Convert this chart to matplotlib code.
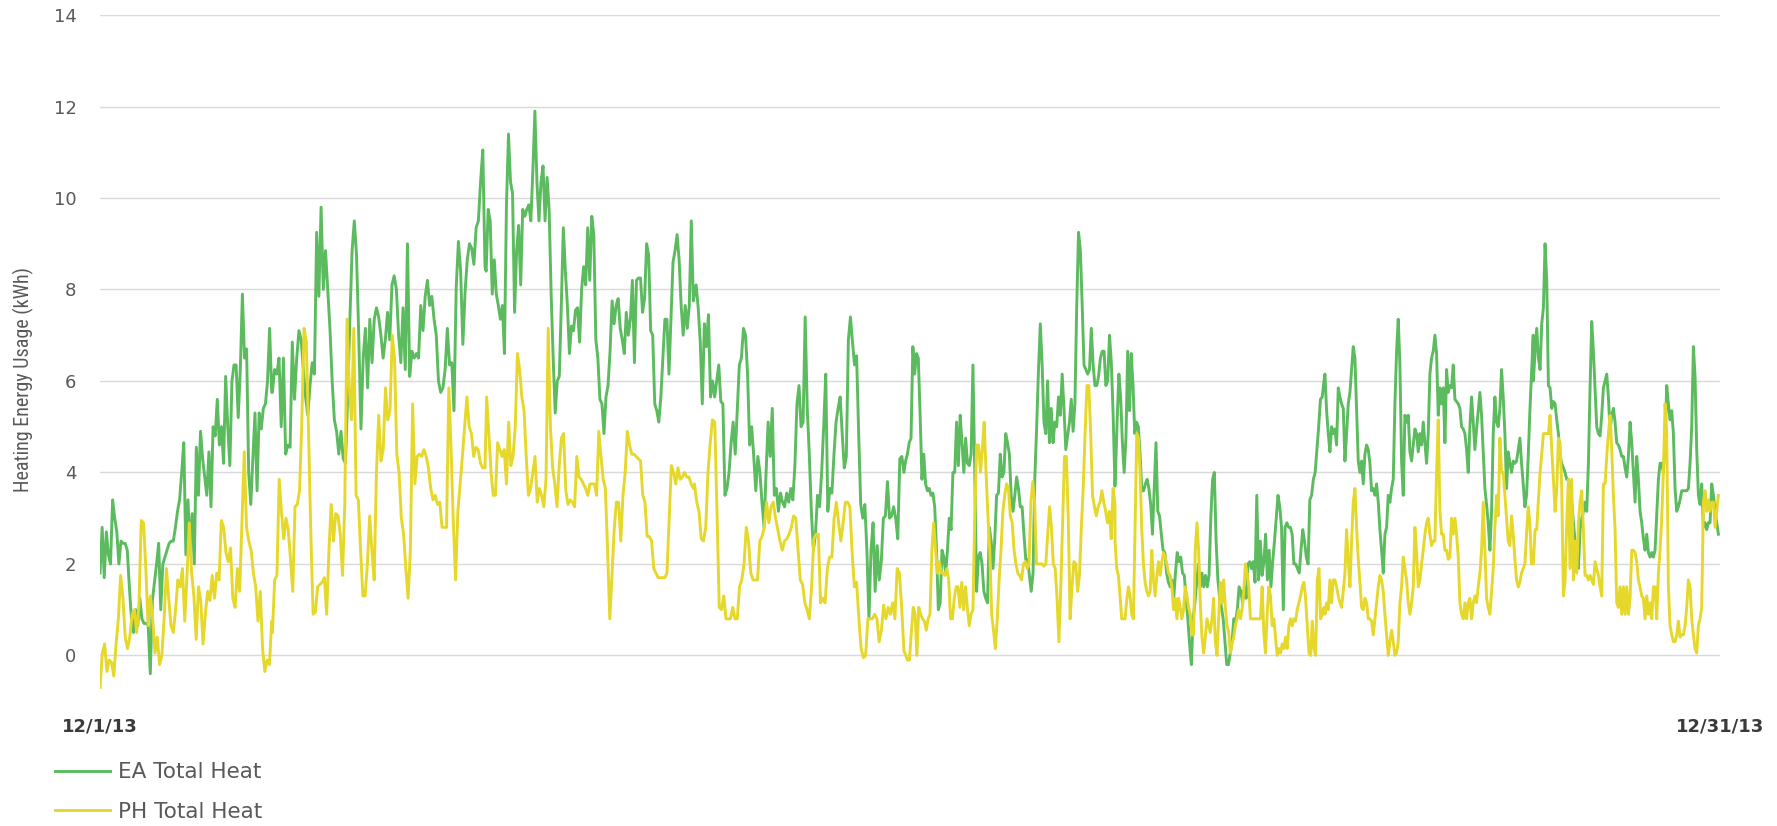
"""Hourly heating energy, EA vs PH, December 2013."""

import numpy as np
import matplotlib
matplotlib.use("Agg")
import matplotlib.pyplot as plt

# hour spans covered by each block of readings (hours since 12/1/13 00:00)
SPANS = [(0, 76.3), (75.6, 171.1), (168.9, 263.7), (262.2, 357.3),
         (355.6, 451.1), (448.9, 544.0), (542.2, 637.0), (635.6, 719.3)]

# EA Total Heat (kWh)
ea_1 = [1.8, 2.8, 1.7, 2.7, 2.2, 2.0, 3.4, 3.0, 2.7, 2.0, 2.5, 2.45, 2.45, 2.3, 1.5, 0.8, 0.5, 1.0, 0.65, 1.25,
        0.8, 0.7, 0.7, 0.65, -0.4, 1.2, 1.6, 2.0, 2.45, 1.0, 2.0, 2.15, 2.3, 2.45, 2.5, 2.5, 2.8, 3.15, 3.4, 4.0,
        4.65, 2.2, 3.4, 2.3, 3.1, 2.0, 4.55, 3.5, 4.9, 4.3, 3.9, 3.5, 4.45, 3.25, 5.0, 4.8, 5.6, 4.6, 5.0, 4.2,
        6.1, 5.0, 4.15, 6.0, 6.35, 6.35, 5.2, 6.25, 7.9, 6.5, 6.7, 4.0, 3.3, 4.3, 5.3, 3.6, 5.3, 4.95, 5.4, 5.5,
        6.0, 7.15, 5.75]
ea_2 = [7.15, 5.75, 6.25, 6.15, 6.5, 5.0, 6.5, 4.4, 4.6, 4.55, 6.85, 5.6, 6.5, 7.1, 6.9, 6.25, 5.65, 5.25, 5.9, 6.4,
        6.15, 9.25, 7.85, 9.8, 8.0, 8.85, 8.0, 7.15, 6.0, 5.15, 4.9, 4.4, 4.9, 4.3, 4.2, 5.65, 7.35, 8.85, 9.5, 8.75,
        7.0, 4.95, 6.5, 7.15, 5.85, 7.35, 6.4, 7.35, 7.6, 7.4, 7.0, 6.5, 6.9, 7.5, 6.9, 8.1, 8.3, 8.0, 7.0, 6.4,
        7.6, 6.25, 9.0, 6.1, 6.65, 6.5, 6.6, 6.5, 7.65, 7.1, 7.85, 8.2, 7.65, 7.85, 7.35, 7.0, 6.0, 5.75, 5.85, 6.25,
        7.15, 6.35, 6.4, 5.35, 8.05, 9.05, 8.4, 6.8, 7.95, 8.65, 9.0, 8.9, 8.55, 9.35, 9.5, 10.35, 11.05, 8.5]
ea_3 = [10.7, 11.0, 11.1, 8.4, 9.75, 9.5, 7.9, 8.65, 7.9, 7.65, 7.35, 7.65, 6.6, 9.85, 11.4, 10.35, 10.1, 7.5, 8.85, 9.4,
        8.1, 9.75, 9.6, 9.75, 9.85, 9.5, 10.6, 11.9, 10.35, 9.5, 10.35, 10.7, 9.5, 10.45, 9.75, 7.9, 6.5, 5.3, 6.0, 6.1,
        7.65, 9.35, 8.4, 7.65, 6.6, 7.2, 7.1, 7.55, 7.6, 6.85, 8.0, 8.5, 8.1, 9.35, 8.2, 9.6, 9.2, 6.9, 6.5, 5.6,
        5.5, 4.85, 5.65, 5.9, 6.65, 7.75, 7.25, 7.65, 7.8, 7.15, 6.9, 6.6, 7.5, 7.0, 7.35, 8.2, 6.4, 8.2, 8.25, 8.25,
        7.5, 7.8, 9.0, 8.75, 7.1, 7.0, 5.5, 5.35, 5.1, 5.65, 6.5, 7.35, 7.35, 6.15, 7.35, 8.6, 8.85, 9.2, 8.65, 7.65,
        7.0, 7.65, 7.15, 7.65, 9.5, 7.75]
ea_4 = [8.2, 9.5, 7.85, 8.1, 7.6, 6.85, 5.5, 7.25, 6.75, 7.45, 5.65, 6.0, 5.65, 6.0, 6.35, 5.55, 5.5, 3.5, 3.65, 4.0,
        4.65, 5.1, 4.4, 5.35, 6.35, 6.5, 7.15, 7.0, 6.15, 4.6, 5.0, 4.35, 3.6, 4.35, 4.0, 3.35, 2.8, 4.0, 5.1, 4.35,
        5.4, 3.5, 3.65, 3.15, 3.55, 3.35, 3.25, 3.55, 3.35, 3.65, 3.4, 4.15, 5.5, 5.9, 5.0, 5.1, 7.4, 5.4, 4.4, 3.15,
        2.3, 2.65, 3.5, 3.25, 4.0, 5.0, 6.15, 3.15, 3.65, 3.55, 4.4, 5.1, 5.4, 5.65, 4.85, 4.1, 4.35, 6.9, 7.4, 6.85,
        6.35, 6.55, 4.85, 3.3, 3.0, 3.3, 2.3, 0.8, 2.3, 2.9, 1.4, 2.4, 1.65, 2.05, 3.0, 3.05, 3.8, 3.0, 3.05, 3.25,
        3.0, 2.55, 4.3, 4.35, 4.0]
ea_5 = [3.9, 4.4, 4.15, 4.25, 4.4, 4.65, 4.75, 6.75, 6.15, 6.6, 6.5, 5.25, 3.85, 4.4, 3.75, 3.6, 3.65, 3.5, 3.55, 3.25,
        2.3, 1.0, 1.15, 2.3, 2.15, 1.8, 2.3, 3.0, 2.75, 4.0, 4.0, 5.1, 4.15, 5.25, 4.65, 4.0, 4.75, 4.2, 4.15, 4.4,
        6.35, 4.0, 1.4, 2.15, 2.25, 2.0, 1.4, 1.25, 1.15, 2.8, 2.5, 1.9, 2.55, 3.5, 3.55, 4.4, 3.9, 4.0, 4.85, 4.65,
        4.4, 3.5, 3.15, 3.5, 3.9, 3.65, 3.25, 3.25, 2.65, 2.1, 2.1, 1.75, 1.4, 1.8, 3.9, 5.0, 6.25, 7.25, 6.35, 5.1,
        4.85, 6.0, 4.65, 5.4, 4.65, 5.1, 5.0, 5.65, 5.25, 6.15, 5.4, 4.5, 4.8, 5.1, 5.6, 4.9, 5.5, 7.65, 9.25, 8.85,
        7.65, 6.35, 6.25, 6.15, 6.25, 7.15, 6.35, 5.9, 5.9, 6.1, 6.5, 6.65, 6.65, 5.9, 6.0, 7.0, 6.4, 5.25, 3.7]
ea_6 = [7.0, 6.5, 5.65, 3.9, 5.1, 6.15, 5.65, 4.65, 4.0, 4.75, 6.65, 5.35, 6.6, 5.9, 4.85, 5.1, 5.0, 4.4, 3.6, 3.6,
        3.75, 3.85, 3.65, 3.3, 2.65, 3.65, 4.65, 3.15, 3.05, 2.65, 2.3, 2.25, 1.8, 1.6, 1.5, 1.65, 1.25, 1.8, 2.25, 2.05,
        2.15, 1.8, 1.75, 1.25, 0.8, 0.25, -0.2, 0.8, 1.15, 1.6, 2.0, 1.5, 1.8, 1.5, 1.75, 1.5, 1.75, 3.0, 3.85, 4.0,
        2.5, 1.65, 1.25, 1.05, 0.8, 0.3, -0.2, -0.2, 0.05, 0.3, 0.8, 0.75, 1.0, 1.5, 1.4, 1.15, 1.5, 1.25, 2.0, 2.05,
        1.9, 2.05, 1.6, 3.5, 1.65, 2.5, 1.75, 2.05, 2.65, 1.65, 2.3, 1.5, 2.05, 2.5, 3.0, 3.5, 3.25, 2.8, 1.0, 2.8,
        2.9, 2.8, 2.8, 2.65, 2.0, 2.0, 1.9, 1.8, 2.3, 2.75, 2.5, 2.15, 2.0, 3.4, 3.5, 3.85, 4.0, 4.5, 5.0, 5.6,
        5.65, 6.0]
ea_7 = [5.65, 5.25, 5.65, 6.15, 5.35, 4.85, 4.45, 5.0, 4.85, 4.95, 4.6, 5.85, 5.65, 5.5, 5.4, 4.25, 4.85, 5.5, 5.75, 6.25,
        6.75, 6.5, 5.35, 4.25, 4.0, 4.25, 3.75, 4.4, 4.6, 4.5, 4.2, 3.6, 3.65, 3.5, 3.75, 3.35, 2.75, 2.3, 1.8, 2.65,
        2.8, 3.5, 3.35, 3.65, 3.85, 5.5, 6.65, 7.35, 6.35, 4.25, 3.5, 5.25, 5.1, 5.25, 4.45, 4.25, 4.6, 4.95, 4.85, 4.45,
        4.85, 4.6, 5.1, 4.65, 4.2, 4.85, 6.15, 6.5, 6.65, 7.0, 6.6, 5.25, 5.85, 5.5, 5.85, 4.65, 6.25, 5.75, 5.9, 5.85,
        6.35, 5.6, 5.55, 5.5, 5.4, 5.0, 4.95, 4.85, 4.5, 4.0, 5.0, 5.65, 5.1, 4.5, 4.95, 5.35, 5.75, 5.25, 4.45, 3.65,
        3.3, 2.9, 2.3, 3.15, 4.85, 5.65, 5.1, 5.0, 5.4, 6.25, 5.65, 4.85, 3.65, 4.45, 4.2, 4.0, 4.25, 4.2, 4.25, 4.5,
        4.75, 4.2, 3.75, 3.25, 3.5, 4.35, 5.35, 6.15, 7.0]
ea_8 = [4.85, 5.35, 6.0, 6.65, 7.15, 6.5, 6.25, 7.25, 7.6, 9.0, 8.2, 5.9, 5.85, 5.4, 5.55, 5.5, 5.15, 4.85, 4.35, 4.2,
        4.1, 4.0, 3.85, 3.85, 3.75, 3.35, 2.9, 2.5, 2.3, 1.9, 2.75, 3.0, 3.15, 3.35, 3.15, 4.2, 5.85, 7.3, 6.65, 5.85,
        5.0, 4.85, 4.8, 5.25, 5.85, 6.0, 6.15, 5.65, 4.9, 5.25, 5.4, 5.1, 4.65, 4.6, 4.5, 4.35, 4.35, 4.1, 3.9, 4.35,
        5.1, 4.65, 4.0, 3.35, 4.35, 3.85, 3.15, 2.9, 2.55, 2.3, 2.65, 2.25, 2.15, 2.25, 2.15, 2.3, 3.05, 3.85, 4.2, 4.2,
        4.0, 4.65, 5.9, 5.5, 5.15, 5.35, 4.85, 3.65, 3.15, 3.25, 3.4, 3.6, 3.6, 3.6, 3.6, 3.65, 4.2, 5.0, 6.75, 6.1,
        4.5, 3.5, 3.3, 3.75, 2.8, 2.9, 2.75, 2.9, 2.9, 3.75, 3.5, 3.15, 2.9, 2.65]

# PH Total Heat (kWh)
ph_1 = [-0.7, 0.05, 0.25, -0.35, -0.1, -0.15, -0.45, 0.25, 0.8, 1.75, 1.25, 0.4, 0.15, 0.4, 0.9, 1.0, 0.5, 1.1, 2.95, 2.9,
        1.9, 0.65, 1.3, 0.8, 0.05, 0.4, -0.2, 0.0, 0.8, 1.9, 1.25, 0.65, 0.5, 1.0, 1.65, 1.5, 1.9, 0.75, 1.75, 2.9,
        1.8, 1.3, 0.35, 1.5, 1.2, 0.25, 0.9, 1.4, 1.2, 1.75, 1.25, 1.8, 1.65, 2.95, 2.8, 2.25, 2.05, 2.35, 1.25, 1.05,
        1.9, 1.4, 2.95, 4.45, 2.8, 2.5, 2.3, 1.8, 1.5, 0.75, 1.4, 0.15, -0.35, -0.1, -0.2, 0.75]
ph_2 = [-0.25, 0.5, 1.65, 1.75, 3.85, 3.15, 2.55, 3.0, 2.75, 2.1, 1.4, 3.25, 3.3, 3.6, 5.1, 7.15, 6.85, 4.85, 2.65, 0.9,
        0.95, 1.5, 1.55, 1.6, 1.7, 0.9, 2.3, 3.3, 2.5, 3.1, 3.05, 2.65, 1.75, 3.3, 7.35, 5.85, 5.15, 7.15, 3.5, 3.4,
        2.3, 1.3, 1.3, 2.0, 3.05, 2.3, 1.65, 4.0, 5.25, 4.25, 4.5, 5.85, 5.15, 5.35, 7.0, 6.5, 4.4, 4.0, 3.0, 2.65,
        1.9, 1.25, 2.3, 5.5, 3.75, 4.35, 4.4, 4.35, 4.5, 4.35, 4.1, 3.65, 3.4, 3.5, 3.3, 3.35, 2.8, 2.8, 2.8, 5.85,
        4.5, 2.9, 1.65, 3.15, 3.75, 4.35, 5.0, 5.65, 5.0, 4.85, 4.35, 4.55, 4.5, 4.2, 4.1, 4.1]
ph_3 = [4.1, 4.15, 5.65, 5.65, 4.85, 4.0, 3.5, 3.5, 4.65, 4.5, 4.35, 4.5, 3.75, 5.1, 4.15, 4.35, 5.0, 6.6, 6.25, 5.65,
        5.35, 4.35, 3.5, 3.65, 4.0, 4.35, 3.35, 3.65, 3.5, 3.25, 3.85, 7.15, 5.0, 4.1, 3.75, 3.25, 4.15, 4.75, 4.85, 3.6,
        3.3, 3.4, 3.35, 3.25, 4.35, 3.9, 3.85, 3.75, 3.65, 3.5, 3.75, 3.75, 3.75, 3.5, 4.9, 4.35, 3.85, 3.65, 2.3, 0.8,
        1.75, 2.75, 3.35, 3.35, 2.5, 3.5, 4.0, 4.9, 4.6, 4.4, 4.4, 4.35, 4.3, 4.25, 3.5, 3.35, 2.6, 2.6, 2.5, 1.9,
        1.8, 1.7, 1.7, 1.7, 1.7, 1.8, 3.0, 4.15, 4.0, 3.75, 4.1, 3.85, 3.9, 4.0, 3.9, 3.9, 3.75, 3.65]
ph_4 = [3.8, 3.9, 3.75, 3.35, 3.15, 2.55, 2.5, 2.8, 4.0, 4.65, 5.15, 5.1, 3.15, 1.05, 1.0, 1.3, 0.8, 0.8, 0.8, 1.05,
        0.8, 0.8, 1.5, 1.65, 2.0, 2.8, 2.5, 1.8, 1.65, 1.65, 1.65, 2.5, 2.6, 2.8, 3.35, 2.9, 3.25, 3.35, 3.0, 2.75,
        2.5, 2.3, 2.5, 2.55, 2.65, 2.8, 3.05, 3.0, 2.3, 1.65, 1.55, 1.15, 1.0, 0.8, 1.5, 2.55, 2.65, 2.65, 1.15, 1.25,
        1.15, 1.9, 2.15, 2.15, 3.0, 3.35, 2.9, 2.5, 2.9, 3.35, 3.35, 3.25, 2.25, 1.5, 1.6, 0.8, 0.15, -0.05, 0.0, 0.8,
        0.8, 0.8, 0.9, 0.8, 0.3, 0.55, 1.1, 0.8, 1.05, 0.9, 1.15, 0.8, 1.9, 1.8, 1.05, 0.1]
ph_5 = [1.8, 1.5, 0.4, 0.0, -0.1, -0.1, 0.5, 1.05, 0.9, 0.0, 1.05, 0.9, 0.8, 0.75, 0.55, 0.8, 0.9, 2.3, 2.9, 2.3,
        1.8, 2.05, 1.8, 1.8, 1.75, 1.9, 1.65, 0.8, 0.8, 1.25, 1.5, 1.5, 1.05, 1.6, 1.0, 1.5, 1.05, 0.65, 0.9, 1.0,
        3.15, 4.6, 4.6, 4.0, 4.5, 5.1, 4.0, 3.05, 2.3, 0.9, 0.55, 0.15, 0.8, 1.65, 2.3, 3.15, 3.5, 3.75, 3.65, 3.05,
        2.9, 2.3, 2.0, 1.8, 1.75, 1.65, 2.0, 2.05, 1.9, 2.0, 3.35, 3.8, 3.35, 2.0, 2.0, 2.0, 2.0, 1.95, 2.0, 2.65,
        3.25, 2.8, 2.0, 1.9, 1.25, 0.3, 1.5, 2.9, 4.35, 4.35, 3.0, 0.8, 1.5, 2.05, 2.0, 1.4, 1.75, 2.8, 3.65, 4.85,
        5.9, 5.9, 4.85, 3.5, 3.25, 3.05, 3.25, 3.35, 3.6, 3.35, 3.15, 2.9, 3.15, 2.55, 3.65, 3.3]
ph_6 = [3.15, 3.25, 2.8, 2.5, 1.9, 1.75, 1.3, 0.8, 0.8, 0.8, 1.2, 1.5, 1.3, 0.9, 0.8, 2.8, 4.85, 4.75, 4.0, 2.75,
        2.0, 1.6, 1.4, 1.3, 1.4, 2.3, 1.65, 1.3, 1.75, 2.05, 1.75, 2.05, 2.25, 2.15, 2.0, 1.8, 1.75, 1.5, 1.0, 1.25,
        0.8, 1.25, 1.05, 0.8, 1.0, 1.5, 1.3, 1.05, 0.9, 0.45, 0.45, 2.3, 2.9, 2.3, 1.15, 0.4, 0.05, 0.4, 0.8, 0.65,
        0.5, 0.8, 1.25, 0.3, 0.0, 0.8, 1.6, 1.15, 1.65, 1.05, 0.65, 0.5, 0.05, 0.25, 0.4, 0.65, 0.8, 1.0, 0.8, 1.0,
        1.4, 2.0, 1.8, 1.5, 0.8, 0.8, 0.8, 0.8, 0.8, 0.8, 0.8, 1.5, 0.5, 0.05, 0.9, 1.5, 1.3, 0.65, 0.8, 0.4,
        0.0, 0.15, 0.05, 0.25, 0.15, 0.4, 0.15, 0.65, 0.8, 0.65, 0.8, 0.75, 1.0, 1.15, 1.3, 1.5, 1.6, 1.25, 0.65, 0.05,
        0.0, 0.75, 0.15, 0.0, 1.65, 1.9, 0.8, 0.9, 1.05]
ph_7 = [1.15, 0.8, 1.0, 0.9, 1.15, 1.0, 1.65, 1.15, 1.65, 1.65, 1.5, 1.3, 1.15, 1.05, 1.4, 1.8, 2.75, 2.1, 1.5, 2.5,
        3.35, 3.65, 2.8, 2.1, 1.6, 1.05, 1.0, 1.25, 1.15, 0.8, 0.8, 0.75, 0.45, 0.8, 1.15, 1.5, 1.75, 1.65, 1.4, 0.9,
        0.45, 0.0, 0.3, 0.55, 0.3, 0.0, 0.05, 0.3, 1.15, 1.5, 2.15, 1.9, 1.65, 1.15, 0.9, 1.15, 1.5, 2.8, 2.25, 1.5,
        1.65, 2.0, 2.3, 2.65, 2.9, 3.0, 2.65, 2.4, 2.5, 2.5, 4.0, 5.15, 3.15, 2.65, 2.65, 2.3, 2.3, 2.1, 2.15, 3.0,
        2.65, 3.0, 2.65, 2.15, 1.15, 0.9, 0.8, 1.15, 0.8, 1.15, 1.25, 0.8, 1.15, 1.3, 1.15, 1.5, 1.8, 2.3, 3.35, 2.3,
        1.25, 1.05, 0.9, 1.4, 1.9, 2.8, 3.5, 3.05, 4.75, 4.0, 4.0, 3.5, 3.0, 2.5, 2.4, 3.05, 2.65, 2.1, 1.65, 1.5,
        1.6, 1.8, 1.9, 2.0, 2.65, 3.25, 2.9, 2.0, 2.0]
ph_8 = [3.15, 2.5, 2.0, 2.75, 2.75, 3.4, 4.0, 4.4, 4.85, 4.85, 4.85, 4.85, 5.25, 4.5, 3.85, 3.15, 3.65, 4.75, 4.65, 3.65,
        1.3, 1.65, 2.9, 3.85, 1.9, 3.85, 1.65, 2.5, 1.8, 2.9, 3.35, 3.6, 2.75, 1.75, 1.75, 1.65, 1.75, 1.65, 1.55, 2.05,
        1.9, 1.75, 1.5, 1.3, 3.75, 3.75, 4.35, 4.85, 5.25, 4.5, 3.5, 2.75, 1.15, 1.05, 1.5, 0.9, 1.5, 0.9, 1.5, 0.9,
        1.25, 2.3, 2.3, 2.25, 2.05, 1.65, 1.5, 1.3, 1.25, 0.8, 1.3, 0.9, 1.15, 0.8, 1.5, 1.5, 0.8, 1.8, 2.3, 3.0,
        4.0, 5.5, 4.85, 1.5, 0.65, 0.45, 0.3, 0.3, 0.45, 0.75, 0.4, 0.45, 0.45, 0.65, 1.05, 1.65, 1.5, 0.8, 0.45, 0.15,
        0.05, 0.65, 0.8, 1.05, 3.35, 3.6, 3.15, 3.4, 3.15, 3.35, 3.35, 2.8, 3.15, 3.5]

EA_BLOCKS = [ea_1, ea_2, ea_3, ea_4, ea_5, ea_6, ea_7, ea_8]
PH_BLOCKS = [ph_1, ph_2, ph_3, ph_4, ph_5, ph_6, ph_7, ph_8]

X_TICKS = [0, 720]
X_LABELS = ["12/1/13", "12/31/13"]

GREEN = "#5cbb5e"
YELLOW = "#e6d82b"
TEXT = "#595959"


def _series(blocks):
    hours, values, last = [], [], -np.inf
    for (t0, t1), vals in zip(SPANS, blocks):
        t = np.linspace(t0, t1, len(vals))
        keep = t > last
        hours.append(t[keep])
        values.append(np.asarray(vals)[keep])
        last = t[-1]
    return np.concatenate(hours), np.concatenate(values)


ea_t, ea_v = _series(EA_BLOCKS)
ph_t, ph_v = _series(PH_BLOCKS)

plt.rcParams["font.family"] = ["DejaVu Sans"]

figure = plt.figure(figsize=(17.77, 8.26), dpi=100)
axis = figure.add_axes([0.0563, 0.1622, 0.9116, 0.8196])

axis.plot(ea_t, ea_v, color=GREEN, lw=2.1, label="EA Total Heat", solid_joinstyle="round")
axis.plot(ph_t, ph_v, color=YELLOW, lw=2.1, label="PH Total Heat", solid_joinstyle="round")

axis.set_xlim(0, 720)
axis.set_ylim(-0.8, 14)
axis.set_yticks(range(0, 15, 2))
axis.set_xticks(X_TICKS)
axis.set_xticklabels(X_LABELS, fontsize=13, fontweight="bold", color="#3a3a3a")
axis.tick_params(axis="y", length=0, pad=17, labelsize=13, labelcolor=TEXT)
axis.tick_params(axis="x", length=0, pad=18)
axis.grid(True, axis="y", color="#d9d9d9", lw=1)
axis.set_axisbelow(True)
for spine in axis.spines.values():
    spine.set_visible(False)

axis.set_ylabel("Heating Energy Usage (kWh)", fontsize=14.5, color=TEXT,
                family=["Roboto Condensed", "Liberation Sans Narrow", "Roboto"])
axis.yaxis.set_label_coords(-0.041, 0.462)

figure.legend(loc="upper left", bbox_to_anchor=(0.031, 0.077), frameon=False, fontsize=15.5,
              handlelength=2.55, handletextpad=0.35, labelspacing=0.9, borderpad=0, borderaxespad=0,
              labelcolor=TEXT)

figure.savefig("out.png", dpi=100)
plt.close(figure)
